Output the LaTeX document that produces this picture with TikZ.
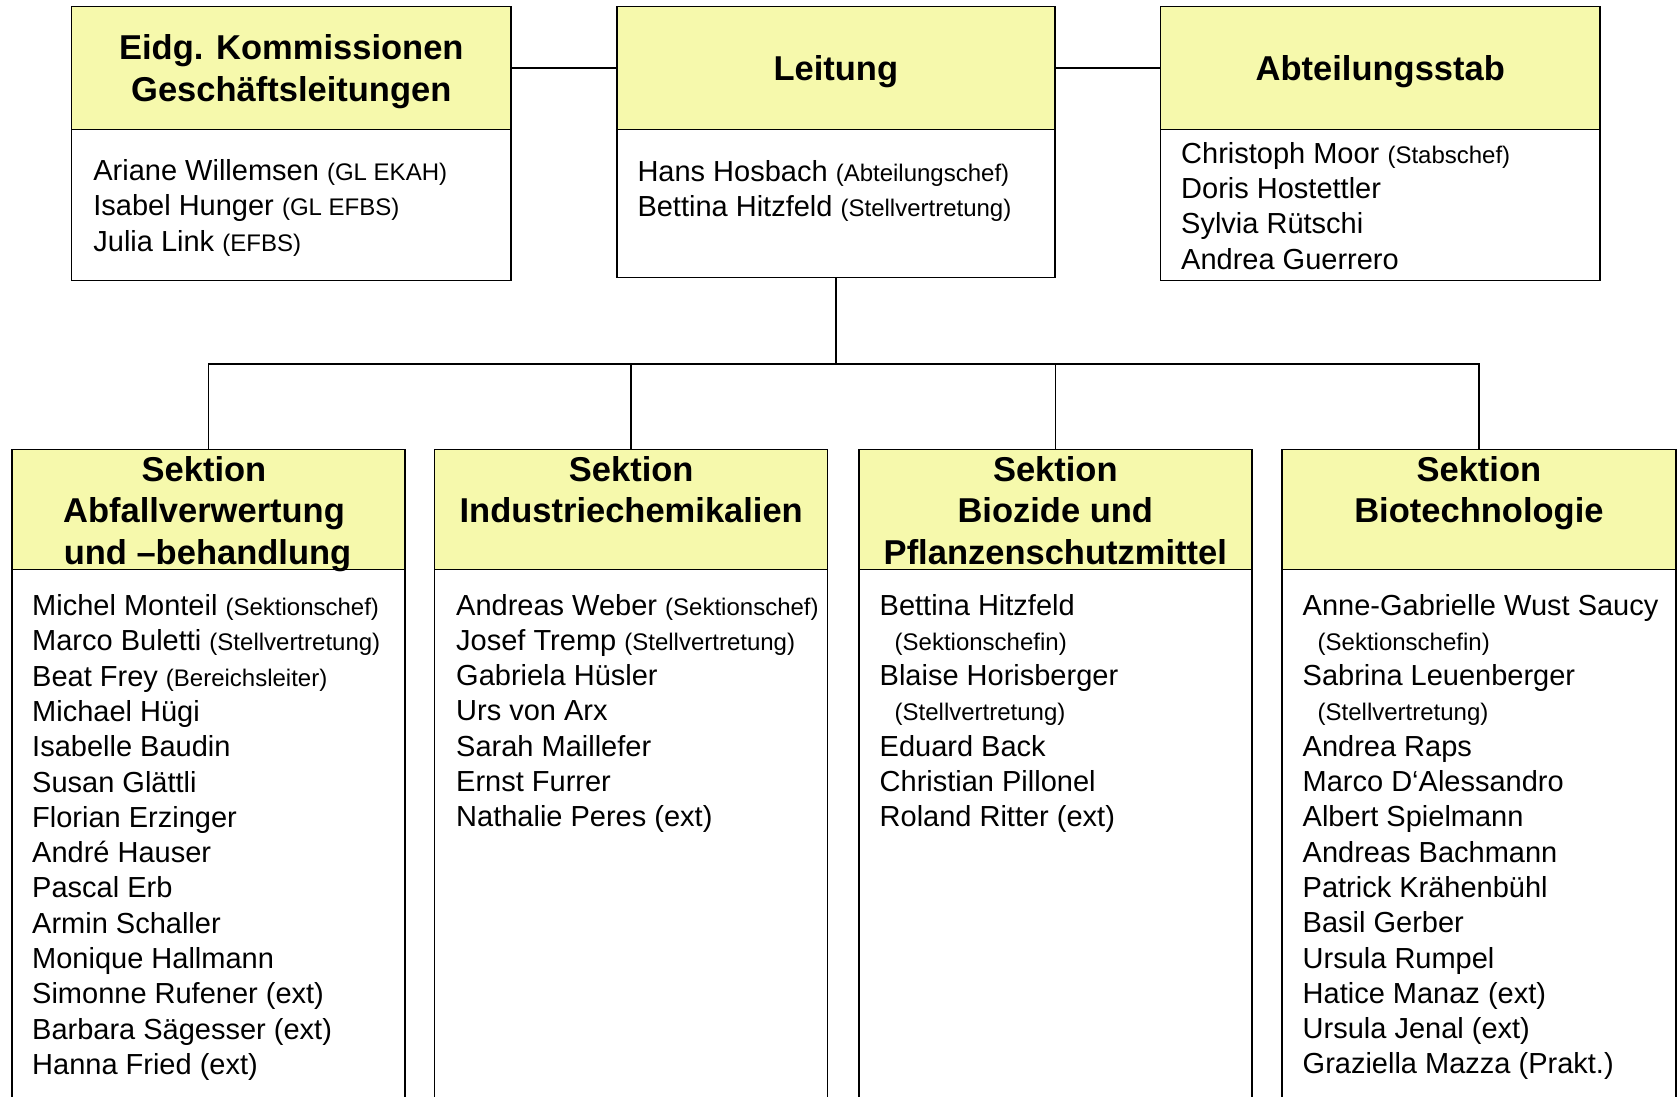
\documentclass[tikz,border=0pt]{standalone}
\usepackage{fontspec}
\setmainfont{Liberation Sans}
\definecolor{headfill}{RGB}{246,249,172}
\newcommand\pnote[1]{{\fontsize{24}{28}\selectfont #1}}
\newcommand\indentnote[1]{\hspace*{15pt}\pnote{#1}}
\begin{document}
\begin{tikzpicture}[x=1pt,y=-1pt,
  box/.style={draw=black, line width=1.5pt, rectangle, inner sep=0pt, outer sep=0pt, anchor=north west},
  head/.style={box, fill=headfill},
  body/.style={box, fill=white},
  htext/.style={font=\fontsize{34.5}{41.8}\selectfont\bfseries, inner sep=0pt, anchor=base},
  ltext/.style={font=\fontsize{29}{35.3}\selectfont, inner sep=0pt, anchor=base west},
  link/.style={line width=1.5pt, draw=black}]
\useasboundingbox (0,0) rectangle (1679,1097);

% ---------- top row ----------
\node[body, minimum width=439.1pt, minimum height=150.9pt] (kb) at (71.7,129.6) {};
\node[head, minimum width=439.1pt, minimum height=123.2pt] (kh) at (71.7,6.4) {};
\node[body, minimum width=438pt, minimum height=147.7pt] (lb) at (616.8,129.6) {};
\node[head, minimum width=438pt, minimum height=123.2pt] (lh) at (616.8,6.4) {};
\node[body, minimum width=439.1pt, minimum height=150.9pt] (ab) at (1160.7,129.6) {};
\node[head, minimum width=439.1pt, minimum height=123.2pt] (ah) at (1160.7,6.4) {};

\node[htext] (kt1) at (291.3,60) {Eidg. Kommissionen};
\node[htext] (kt2) at (291.3,101.7) {Geschäftsleitungen};
\node[htext] (lt1) at (835.8,81) {Leitung};
\node[htext] (at1) at (1380.3,81) {Abteilungsstab};

\foreach \t [count=\i] in {{Ariane Willemsen \pnote{(GL EKAH)}},
    {Isabel Hunger \pnote{(GL EFBS)}},
    {Julia Link \pnote{(EFBS)}}}
  \node[ltext] (kl-\i) at (93.2,{180.5+(\i-1)*35.3}) {\t};

\foreach \t [count=\i] in {{Hans Hosbach \pnote{(Abteilungschef)}},
    {Bettina Hitzfeld \pnote{(Stellvertretung)}}}
  \node[ltext] (ll-\i) at (637.3,{181.5+(\i-1)*35.3}) {\t};

\foreach \t [count=\i] in {{Christoph Moor \pnote{(Stabschef)}},
    {Doris Hostettler}, {Sylvia Rütschi}, {Andrea Guerrero}}
  \node[ltext] (al-\i) at (1181,{163.3+(\i-1)*35.3}) {\t};

% ---------- sections ----------
\foreach \n/\x/\w in {1/11.8/393, 2/434.7/393, 3/858.8/393, 4/1281.8/394.2} {
  \node[body, minimum width=\w pt, minimum height=540pt] (s\n b) at (\x,569.7) {};
  \node[head, minimum width=\w pt, minimum height=120pt] (s\n h) at (\x,449.7) {};
}

\node[htext] (s1t1) at (204,481) {Sektion};
\node[htext] (s1t2) at (204,522.5) {Abfallverwertung};
\node[htext] (s1t3) at (207.5,564) {und –behandlung};
\node[htext] (s2t1) at (631.2,481) {Sektion};
\node[htext] (s2t2) at (631.2,522.5) {Industriechemikalien};
\node[htext] (s3t1) at (1055.3,481) {Sektion};
\node[htext] (s3t2) at (1055.3,522.5) {Biozide und};
\node[htext] (s3t3) at (1055.3,564) {Pflanzenschutzmittel};
\node[htext] (s4t1) at (1478.9,481) {Sektion};
\node[htext] (s4t2) at (1478.9,522.5) {Biotechnologie};

\foreach \t [count=\i] in {{Michel Monteil \pnote{(Sektionschef)}},
    {Marco Buletti \pnote{(Stellvertretung)}},
    {Beat Frey \pnote{(Bereichsleiter)}},
    {Michael Hügi}, {Isabelle Baudin}, {Susan Glättli}, {Florian Erzinger},
    {André Hauser}, {Pascal Erb}, {Armin Schaller}, {Monique Hallmann},
    {Simonne Rufener (ext)}, {Barbara Sägesser (ext)}, {Hanna Fried (ext)}}
  \node[ltext] (s1l-\i) at (32,{615.5+(\i-1)*35.3}) {\t};

\foreach \t [count=\i] in {{Andreas Weber \pnote{(Sektionschef)}},
    {Josef Tremp \pnote{(Stellvertretung)}},
    {Gabriela Hüsler}, {Urs von Arx}, {Sarah Maillefer}, {Ernst Furrer},
    {Nathalie Peres (ext)}}
  \node[ltext] (s2l-\i) at (456,{615+(\i-1)*35.3}) {\t};

\foreach \t [count=\i] in {{Bettina Hitzfeld}, {\indentnote{(Sektionschefin)}},
    {Blaise Horisberger}, {\indentnote{(Stellvertretung)}},
    {Eduard Back}, {Christian Pillonel}, {Roland Ritter (ext)}}
  \node[ltext] (s3l-\i) at (879.5,{615+(\i-1)*35.3}) {\t};

\foreach \t [count=\i] in {{Anne-Gabrielle Wust Saucy}, {\indentnote{(Sektionschefin)}},
    {Sabrina Leuenberger}, {\indentnote{(Stellvertretung)}},
    {Andrea Raps}, {Marco D‘Alessandro}, {Albert Spielmann},
    {Andreas Bachmann}, {Patrick Krähenbühl}, {Basil Gerber},
    {Ursula Rumpel}, {Hatice Manaz (ext)}, {Ursula Jenal (ext)},
    {Graziella Mazza (Prakt.)}}
  \node[ltext] (s4l-\i) at (1302.5,{615+(\i-1)*35.3}) {\t};

% ---------- connectors ----------
\draw[link] (kh.east) -- (lh.west);
\draw[link] (lh.east) -- (ah.west);
\coordinate (bus) at (835.8,364);
\draw[link] (lb.south) -- (bus);
\draw[link] (s1h.north) -- (s1h.north |- bus) -- (s4h.north |- bus) -- (s4h.north);
\draw[link] (s2h.north) -- (s2h.north |- bus);
\draw[link] (s3h.north) -- (s3h.north |- bus);
\end{tikzpicture}
\end{document}
